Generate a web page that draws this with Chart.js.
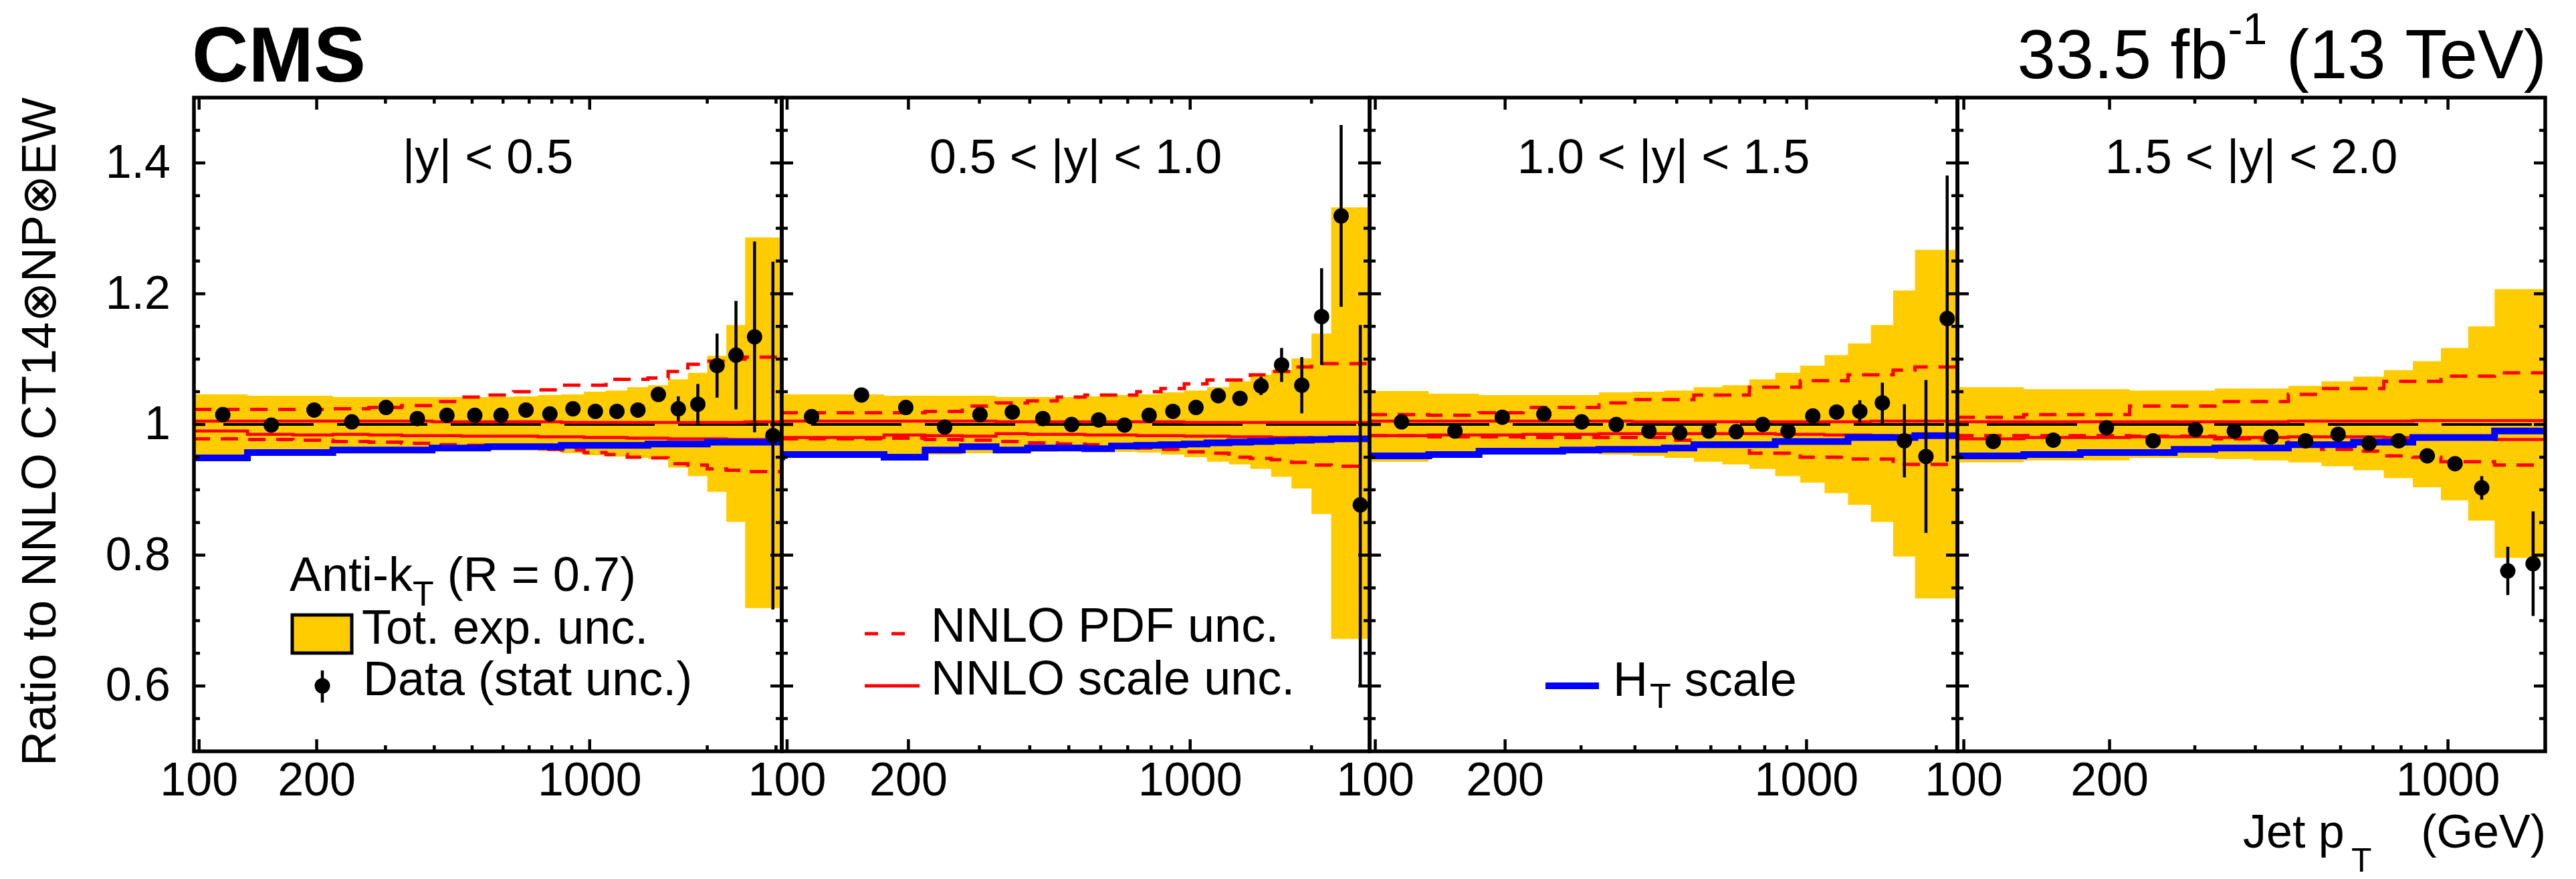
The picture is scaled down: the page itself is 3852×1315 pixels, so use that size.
<!DOCTYPE html>
<html>
<head>
<meta charset="utf-8">
<title>CMS inclusive jets: ratio to NNLO</title>
<script src="https://cdn.jsdelivr.net/npm/chart.js@4.4.1/dist/chart.umd.min.js"></script>
<style>
html, body { margin:0; padding:0; background:#ffffff; }
#wrap { position:relative; width:3852px; height:1315px; overflow:hidden; background:#ffffff; }
#wrap canvas { position:absolute; left:0; top:0; }
</style>
</head>
<body>
<div id="wrap">
<canvas id="p0" width="3852" height="1315"></canvas>
<canvas id="p1" width="3852" height="1315"></canvas>
<canvas id="p2" width="3852" height="1315"></canvas>
<canvas id="p3" width="3852" height="1315"></canvas>
</div>
<script>
// ---------------- data ----------------
const PT_EDGES   = [97,133,174,220,272,330,395,468,548,638,737,846,967,1101,1248,1410,1588,1784,2000,2238,2500,2787,3103];
const PT_CENTERS = [115,153,197,246,301,362,431,508,593,687,791,906,1034,1174,1329,1499,1686,1892,2119,2369,2643,2945];
const RAPIDITY_LABELS = ['|y| < 0.5', '0.5 < |y| < 1.0', '1.0 < |y| < 1.5', '1.5 < |y| < 2.0'];
const N_BINS = [22, 21, 19, 16];
const X_TICKS = [100,200,300,400,500,600,700,800,900,1000,2000,3000];
const X_TICK_LABELS = [100, 200, 1000];
const Y_TICKS_MAJOR = [0.6, 0.8, 1.0, 1.2, 1.4];
const Y_TICK_TEXT = ['0.6', '0.8', '1', '1.2', '1.4'];
const Y_TICKS_MINOR = [0.55,0.65,0.7,0.75,0.85,0.9,0.95,1.05,1.1,1.15,1.25,1.3,1.35,1.45];
const Y_MIN = 0.5, Y_MAX = 1.5;
const NOMINAL = 1;

// |y| < 0.5
const ratio_y0   = [1.015,0.999,1.022,1.004,1.026,1.009,1.014,1.014,1.014,1.022,1.016,1.024,1.020,1.020,1.022,1.046,1.024,1.031,1.090,1.106,1.134,0.983];
const stat_y0    = [0.002,0.002,0.002,0.002,0.002,0.002,0.002,0.002,0.002,0.003,0.003,0.003,0.004,0.005,0.006,0.009,0.019,0.031,0.049,0.083,0.146,0.266];
const expUp_y0   = [1.052,1.046,1.044,1.044,1.042,1.042,1.042,1.042,1.042,1.042,1.043,1.045,1.046,1.050,1.052,1.057,1.060,1.069,1.079,1.105,1.152,1.286];
const expLo_y0   = [0.954,0.954,0.957,0.957,0.959,0.959,0.959,0.961,0.961,0.961,0.961,0.959,0.956,0.953,0.951,0.949,0.947,0.934,0.921,0.897,0.851,0.719];
const pdfUp_y0   = [1.023,1.023,1.023,1.023,1.024,1.026,1.029,1.035,1.042,1.045,1.050,1.053,1.060,1.060,1.069,1.069,1.071,1.081,1.092,1.097,1.100,1.103];
const pdfLo_y0   = [0.980,0.978,0.977,0.976,0.974,0.973,0.971,0.969,0.968,0.966,0.964,0.962,0.961,0.957,0.954,0.950,0.949,0.940,0.938,0.932,0.930,0.928];
const scaleUp_y0 = [1.005,1.005,1.005,1.005,1.005,1.005,1.005,1.004,1.004,1.004,1.004,1.004,1.003,1.003,1.003,1.003,1.003,1.003,1.003,1.003,1.003,1.004];
const scaleLo_y0 = [0.978,0.990,0.985,0.984,0.985,0.984,0.983,0.983,0.982,0.982,0.982,0.981,0.981,0.980,0.980,0.979,0.979,0.978,0.978,0.978,0.977,0.977];
const ht_y0      = [0.949,0.949,0.957,0.957,0.961,0.961,0.961,0.964,0.964,0.966,0.966,0.966,0.968,0.968,0.968,0.968,0.970,0.970,0.970,0.973,0.973,0.973];

// 0.5 < |y| < 1.0
const ratio_y1   = [1.012,1.045,1.026,0.996,1.015,1.019,1.009,1.000,1.007,0.999,1.014,1.020,1.026,1.044,1.040,1.059,1.091,1.060,1.165,1.319,0.877];
const stat_y1    = [0.002,0.002,0.002,0.002,0.002,0.002,0.002,0.002,0.003,0.003,0.003,0.004,0.005,0.006,0.008,0.014,0.026,0.043,0.074,0.139,0.275];
const expUp_y1   = [1.050,1.046,1.046,1.044,1.044,1.044,1.042,1.042,1.042,1.043,1.045,1.046,1.049,1.052,1.057,1.066,1.076,1.083,1.101,1.139,1.332];
const expLo_y1   = [0.949,0.950,0.952,0.953,0.954,0.956,0.957,0.958,0.959,0.959,0.958,0.957,0.954,0.950,0.943,0.939,0.932,0.920,0.902,0.863,0.672];
const pdfUp_y1   = [1.020,1.018,1.018,1.018,1.020,1.028,1.033,1.036,1.042,1.045,1.045,1.050,1.055,1.062,1.068,1.068,1.076,1.081,1.088,1.093,1.093];
const pdfLo_y1   = [0.980,0.978,0.978,0.979,0.977,0.976,0.974,0.972,0.970,0.969,0.968,0.964,0.962,0.958,0.956,0.950,0.948,0.946,0.942,0.938,0.936];
const scaleUp_y1 = [1.005,1.005,1.005,1.005,1.005,1.005,1.004,1.004,1.004,1.004,1.004,1.004,1.004,1.003,1.003,1.003,1.003,1.003,1.003,1.003,1.003];
const scaleLo_y1 = [0.982,0.980,0.980,0.984,0.983,0.982,0.986,0.985,0.985,0.984,0.984,0.983,0.983,0.982,0.982,0.981,0.981,0.980,0.980,0.979,0.979];
const ht_y1      = [0.945,0.954,0.954,0.950,0.961,0.966,0.961,0.964,0.964,0.963,0.967,0.968,0.969,0.970,0.972,0.973,0.974,0.975,0.976,0.977,0.978];

// 1.0 < |y| < 1.5
const ratio_y2   = [1.004,0.990,1.011,1.016,1.004,1.000,0.990,0.987,0.990,0.989,1.000,0.990,1.013,1.019,1.020,1.033,0.975,0.951,1.162];
const stat_y2    = [0.002,0.002,0.002,0.002,0.002,0.002,0.002,0.003,0.003,0.003,0.004,0.005,0.007,0.009,0.017,0.031,0.056,0.117,0.219];
const expUp_y2   = [1.062,1.051,1.047,1.045,1.045,1.045,1.049,1.050,1.052,1.057,1.060,1.069,1.079,1.090,1.106,1.124,1.152,1.205,1.267];
const expLo_y2   = [0.940,0.943,0.952,0.954,0.956,0.956,0.954,0.952,0.949,0.943,0.939,0.932,0.921,0.911,0.895,0.877,0.851,0.798,0.734];
const pdfUp_y2   = [1.015,1.015,1.014,1.018,1.026,1.026,1.033,1.038,1.038,1.045,1.045,1.057,1.057,1.067,1.067,1.076,1.076,1.083,1.088];
const pdfLo_y2   = [0.983,0.983,0.981,0.981,0.980,0.980,0.980,0.980,0.976,0.969,0.969,0.956,0.956,0.950,0.950,0.947,0.947,0.939,0.939];
const scaleUp_y2 = [1.005,1.005,1.005,1.005,1.005,1.005,1.005,1.004,1.004,1.004,1.004,1.004,1.004,1.004,1.004,1.004,1.005,1.005,1.005];
const scaleLo_y2 = [0.983,0.983,0.984,0.984,0.985,0.985,0.986,0.986,0.986,0.986,0.986,0.986,0.985,0.985,0.984,0.984,0.983,0.982,0.982];
const ht_y2      = [0.949,0.952,0.954,0.959,0.959,0.961,0.962,0.962,0.964,0.969,0.969,0.969,0.974,0.974,0.974,0.980,0.980,0.980,0.983];

// 1.5 < |y| < 2.0
const ratio_y3   = [0.974,0.976,0.995,0.975,0.992,0.990,0.981,0.975,0.985,0.971,0.975,0.952,0.940,0.903,0.776,0.787];
const stat_y3    = [0.002,0.002,0.002,0.002,0.002,0.003,0.003,0.003,0.004,0.004,0.005,0.007,0.009,0.018,0.037,0.080];
const expUp_y3   = [1.066,1.057,1.054,1.054,1.052,1.052,1.055,1.055,1.059,1.066,1.073,1.083,1.097,1.117,1.150,1.207];
const expLo_y3   = [0.935,0.942,0.945,0.945,0.949,0.949,0.947,0.945,0.942,0.936,0.930,0.918,0.904,0.884,0.853,0.796];
const pdfUp_y3   = [1.011,1.011,1.015,1.015,1.028,1.028,1.035,1.035,1.046,1.055,1.055,1.066,1.066,1.074,1.074,1.079];
const pdfLo_y3   = [0.985,0.983,0.983,0.983,0.982,0.982,0.978,0.976,0.969,0.962,0.959,0.952,0.950,0.943,0.943,0.938];
const scaleUp_y3 = [1.004,1.004,1.004,1.004,1.004,1.004,1.004,1.004,1.005,1.005,1.005,1.005,1.006,1.006,1.006,1.006];
const scaleLo_y3 = [0.976,0.978,0.980,0.980,0.981,0.981,0.980,0.980,0.981,0.981,0.981,0.980,0.980,0.978,0.978,0.977];
const ht_y3      = [0.950,0.952,0.954,0.957,0.957,0.962,0.964,0.964,0.969,0.969,0.973,0.973,0.980,0.980,0.980,0.990];

// ---------------- layout & style ----------------
const FONT = '"Liberation Sans", Arial, Helvetica, sans-serif';
const CANVAS_W = 3852, CANVAS_H = 1315;
const PANEL_LEFT = [290, 1169, 2048, 2927];
const PANEL_W = 879;
const PLOT_TOP = 146, PLOT_BOTTOM = 1124;
const YELLOW = '#ffcc00', RED = '#ff0000', BLUE = '#0000ff';

const PANELS = [
  {label: RAPIDITY_LABELS[0], nb: N_BINS[0], ratio: ratio_y0, stat: stat_y0, expUp: expUp_y0, expLo: expLo_y0, pdfUp: pdfUp_y0, pdfLo: pdfLo_y0, scaleUp: scaleUp_y0, scaleLo: scaleLo_y0, ht: ht_y0},
  {label: RAPIDITY_LABELS[1], nb: N_BINS[1], ratio: ratio_y1, stat: stat_y1, expUp: expUp_y1, expLo: expLo_y1, pdfUp: pdfUp_y1, pdfLo: pdfLo_y1, scaleUp: scaleUp_y1, scaleLo: scaleLo_y1, ht: ht_y1},
  {label: RAPIDITY_LABELS[2], nb: N_BINS[2], ratio: ratio_y2, stat: stat_y2, expUp: expUp_y2, expLo: expLo_y2, pdfUp: pdfUp_y2, pdfLo: pdfLo_y2, scaleUp: scaleUp_y2, scaleLo: scaleLo_y2, ht: ht_y2},
  {label: RAPIDITY_LABELS[3], nb: N_BINS[3], ratio: ratio_y3, stat: stat_y3, expUp: expUp_y3, expLo: expLo_y3, pdfUp: pdfUp_y3, pdfLo: pdfLo_y3, scaleUp: scaleUp_y3, scaleLo: scaleLo_y3, ht: ht_y3}
];

// histogram-style steps: one point per lower bin edge + closing point at last upper edge
function steps(edges, vals) {
  const d = vals.map((v, i) => ({x: edges[i], y: v}));
  d.push({x: edges[vals.length], y: vals[vals.length - 1]});
  return d;
}

function drawSegs(ctx, x, y, segs) {
  let cx = x;
  ctx.textAlign = 'left';
  ctx.textBaseline = 'alphabetic';
  for (const [t, size, dy, gap] of segs) {
    cx += (gap || 0);
    ctx.font = `${size}px ${FONT}`;
    ctx.fillText(t, cx, y + dy);
    cx += ctx.measureText(t).width;
  }
  return cx;
}

function errorBarPlugin(p, pt) {
  return {
    id: 'errbars',
    afterDatasetsDraw(chart) {
      const ctx = chart.ctx, a = chart.chartArea, xs = chart.scales.x, ys = chart.scales.y;
      ctx.save();
      ctx.beginPath();
      ctx.rect(a.left, a.top, a.right - a.left, a.bottom - a.top);
      ctx.clip();
      ctx.strokeStyle = '#000';
      ctx.lineWidth = 4.5;
      ctx.lineCap = 'butt';
      pt.forEach((xv, i) => {
        const x = xs.getPixelForValue(xv);
        const y1 = ys.getPixelForValue(p.ratio[i] - p.stat[i]);
        const y2 = ys.getPixelForValue(p.ratio[i] + p.stat[i]);
        ctx.beginPath(); ctx.moveTo(x, y1); ctx.lineTo(x, y2); ctx.stroke();
      });
      ctx.restore();
    }
  };
}

function decorPlugin(pi, p) {
  return {
    id: 'decor',
    afterDraw(chart) {
      const ctx = chart.ctx, a = chart.chartArea, xs = chart.scales.x, ys = chart.scales.y;
      ctx.save();
      ctx.strokeStyle = '#000'; ctx.fillStyle = '#000';
      ctx.lineCap = 'butt';
      ctx.lineWidth = 4.5;
      // y ticks (both sides, inward)
      const yt = Y_TICKS_MAJOR.map(v => [v, 17]).concat(Y_TICKS_MINOR.map(v => [v, 9]));
      for (const [v, L] of yt) {
        const y = ys.getPixelForValue(v);
        ctx.beginPath();
        ctx.moveTo(a.left, y); ctx.lineTo(a.left + L, y);
        ctx.moveTo(a.right, y); ctx.lineTo(a.right - L, y);
        ctx.stroke();
      }
      // x ticks (top and bottom, inward)
      for (const v of X_TICKS) {
        if (v < xs.min || v > xs.max) continue;
        const x = xs.getPixelForValue(v);
        const L = X_TICK_LABELS.includes(v) ? 18 : 9;
        ctx.beginPath();
        ctx.moveTo(x, a.bottom); ctx.lineTo(x, a.bottom - L);
        ctx.moveTo(x, a.top); ctx.lineTo(x, a.top + L);
        ctx.stroke();
      }
      // frame
      ctx.lineWidth = 5.5;
      ctx.strokeRect(a.left, a.top, a.right - a.left, a.bottom - a.top);

      // x tick labels
      ctx.font = `70px ${FONT}`;
      ctx.textAlign = 'center'; ctx.textBaseline = 'alphabetic';
      for (const v of X_TICK_LABELS) {
        if (v < xs.min || v > xs.max) continue;
        ctx.fillText(String(v), xs.getPixelForValue(v), a.bottom + 66);
      }
      // rapidity label
      ctx.font = `72px ${FONT}`;
      ctx.fillText(p.label, (a.left + a.right) / 2, a.top + 113);

      if (pi === 0) {
        // y tick labels
        ctx.font = `70px ${FONT}`;
        ctx.textAlign = 'right'; ctx.textBaseline = 'middle';
        Y_TICKS_MAJOR.forEach((v, i) => ctx.fillText(Y_TICK_TEXT[i], a.left - 35, ys.getPixelForValue(v) + 3));
        // y axis title
        ctx.save();
        ctx.translate(83, 646);
        ctx.rotate(-Math.PI / 2);
        ctx.font = `72px ${FONT}`;
        ctx.textAlign = 'center'; ctx.textBaseline = 'alphabetic';
        ctx.fillText('Ratio to NNLO CT14\u2297NP\u2297EW', 0, 0);
        ctx.restore();
        // CMS
        ctx.textAlign = 'left'; ctx.textBaseline = 'alphabetic';
        ctx.font = `bold 117px ${FONT}`;
        ctx.fillText('CMS', 287, 122);
        // luminosity
        ctx.font = `103px ${FONT}`;
        const wA = ctx.measureText('33.5 fb').width;
        const wB = ctx.measureText(' (13 TeV)').width;
        ctx.font = `66px ${FONT}`;
        const wS = ctx.measureText('-1').width;
        const x0 = 3808 - (wA + wS + wB);
        drawSegs(ctx, x0, 117, [['33.5 fb', 103, 0], ['-1', 66, -51], [' (13 TeV)', 103, 0]]);
        // legend: Anti-kT, tot. exp. unc., data
        drawSegs(ctx, a.left + 143, 884, [['Anti-k', 72, 0], ['T', 52, 22], [' (R = 0.7)', 72, 0]]);
        ctx.fillStyle = YELLOW;
        ctx.fillRect(a.left + 147, 920, 89, 57);
        ctx.lineWidth = 5; ctx.strokeStyle = '#000';
        ctx.strokeRect(a.left + 147, 920, 89, 57);
        ctx.fillStyle = '#000';
        drawSegs(ctx, a.left + 251, 963, [['Tot. exp. unc.', 72, 0]]);
        ctx.lineWidth = 4.5;
        ctx.beginPath(); ctx.moveTo(a.left + 192, 1003); ctx.lineTo(a.left + 192, 1051); ctx.stroke();
        ctx.beginPath(); ctx.arc(a.left + 192, 1026, 11.5, 0, Math.PI * 2); ctx.fill();
        drawSegs(ctx, a.left + 253, 1040, [['Data (stat unc.)', 72, 0]]);
      }
      if (pi === 1) {
        ctx.strokeStyle = RED; ctx.lineWidth = 5;
        ctx.setLineDash([20, 20]);
        ctx.beginPath(); ctx.moveTo(a.left + 124, 948); ctx.lineTo(a.left + 191, 948); ctx.stroke();
        ctx.setLineDash([]);
        ctx.beginPath(); ctx.moveTo(a.left + 124, 1026); ctx.lineTo(a.left + 206, 1026); ctx.stroke();
        ctx.fillStyle = '#000';
        drawSegs(ctx, a.left + 223, 960, [['NNLO PDF unc.', 72, 0]]);
        drawSegs(ctx, a.left + 223, 1039, [['NNLO scale unc.', 72, 0]]);
      }
      if (pi === 2) {
        ctx.strokeStyle = BLUE; ctx.lineWidth = 10;
        ctx.beginPath(); ctx.moveTo(a.left + 263, 1026); ctx.lineTo(a.left + 343, 1026); ctx.stroke();
        ctx.fillStyle = '#000';
        drawSegs(ctx, a.left + 364, 1041, [['H', 72, 0], ['T', 52, 18, 3], [' scale', 72, 0]]);
      }
      if (pi === 3) {
        ctx.fillStyle = '#000';
        ctx.textBaseline = 'alphabetic';
        ctx.font = `70px ${FONT}`;
        ctx.textAlign = 'right';
        ctx.fillText('(GeV)', a.right + 1, 1268);
        ctx.textAlign = 'left';
        ctx.fillText('Jet p', a.right - 452, 1268);
        ctx.font = `50px ${FONT}`;
        ctx.fillText('T', a.right - 290, 1304);
      }
      ctx.restore();
    }
  };
}

PANELS.forEach((p, pi) => {
  const nb = p.nb;
  const edges = PT_EDGES.slice(0, nb + 1);
  const pt = PT_CENTERS.slice(0, nb);
  const line = {pointRadius: 0, pointHoverRadius: 0, stepped: 'after', fill: false, tension: 0, borderCapStyle: 'butt', borderJoinStyle: 'miter'};
  const datasets = [
    {label: 'Data (stat unc.)', data: pt.map((x, i) => ({x: x, y: p.ratio[i]})), showLine: false,
     pointRadius: 11.5, pointHoverRadius: 11.5, pointBackgroundColor: '#000', pointBorderColor: '#000', pointBorderWidth: 0, borderColor: '#000', borderWidth: 0, fill: false},
    Object.assign({}, line, {label: 'HT scale', data: steps(edges, p.ht), borderColor: BLUE, borderWidth: 10}),
    Object.assign({}, line, {label: 'NNLO scale unc. up', data: steps(edges, p.scaleUp), borderColor: RED, borderWidth: 4.5}),
    Object.assign({}, line, {label: 'NNLO scale unc. down', data: steps(edges, p.scaleLo), borderColor: RED, borderWidth: 4.5}),
    Object.assign({}, line, {label: 'NNLO central', data: [{x: edges[0], y: NOMINAL}, {x: edges[nb], y: NOMINAL}], borderColor: '#000', borderWidth: 4, borderDash: [135, 35], borderDashOffset: 126}),
    Object.assign({}, line, {label: 'NNLO PDF unc. up', data: steps(edges, p.pdfUp), borderColor: RED, borderWidth: 5, borderDash: [26, 16]}),
    Object.assign({}, line, {label: 'NNLO PDF unc. down', data: steps(edges, p.pdfLo), borderColor: RED, borderWidth: 5, borderDash: [26, 16]}),
    Object.assign({}, line, {label: 'Tot. exp. unc.', data: steps(edges, p.expUp), borderColor: 'rgba(0,0,0,0)', borderWidth: 0, fill: '+1', backgroundColor: YELLOW}),
    Object.assign({}, line, {label: 'Tot. exp. unc. low', data: steps(edges, p.expLo), borderColor: 'rgba(0,0,0,0)', borderWidth: 0})
  ];
  const left = PANEL_LEFT[pi];
  new Chart(document.getElementById('p' + pi), {
    type: 'line',
    data: {datasets: datasets},
    options: {
      responsive: false,
      animation: false,
      devicePixelRatio: 1,
      events: [],
      layout: {padding: {left: left, right: CANVAS_W - (left + PANEL_W), top: PLOT_TOP, bottom: CANVAS_H - PLOT_BOTTOM}},
      plugins: {legend: {display: false}, tooltip: {enabled: false}, title: {display: false}},
      scales: {
        x: {type: 'logarithmic', min: edges[0], max: edges[nb], display: false, bounds: 'data'},
        y: {type: 'linear', min: Y_MIN, max: Y_MAX, display: false}
      }
    },
    plugins: [errorBarPlugin(p, pt), decorPlugin(pi, p)]
  });
});
</script>
</body>
</html>
